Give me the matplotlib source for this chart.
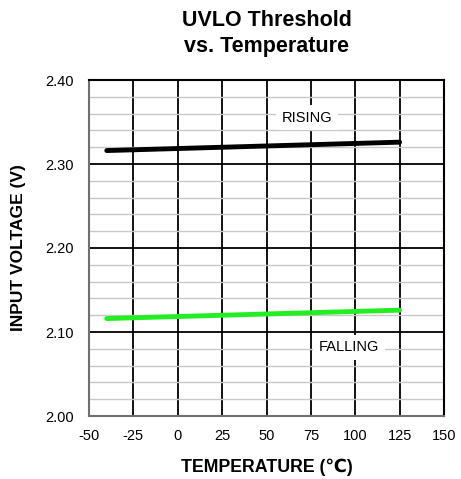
import numpy as np
import matplotlib.pyplot as plt
from matplotlib.ticker import MultipleLocator

plt.rcParams['font.family'] = ['Liberation Sans', 'DejaVu Sans']
plt.rcParams['axes.unicode_minus'] = False

# data
temp = [-40, 125]
rising = [2.316, 2.326]
falling = [2.116, 2.126]
x_ticks = [-50, -25, 0, 25, 50, 75, 100, 125, 150]
y_ticks = [2.00, 2.10, 2.20, 2.30, 2.40]

fig = plt.figure(figsize=(4.61, 4.79), dpi=100)
ax = fig.add_axes([89/461, 1-416/479, 355/461, 336/479])

ax.set_xlim(-50, 150)
ax.set_ylim(2.00, 2.40)
ax.set_xticks(x_ticks)
ax.set_yticks(y_ticks)
ax.set_yticklabels([f"{v:.2f}" for v in y_ticks])
ax.yaxis.set_minor_locator(MultipleLocator(0.02))

ax.grid(True, which='major', color='black', linewidth=1.3)
ax.grid(True, which='minor', axis='y', color='#c8c8c8', linewidth=1.0)
ax.set_axisbelow(True)
ax.tick_params(which='both', length=0, labelsize=10.5)
ax.tick_params(axis='y', pad=11)
ax.tick_params(axis='x', pad=9.5)

for s in ['top', 'right']:
    ax.spines[s].set_color('black')
    ax.spines[s].set_linewidth(1.5)
for s in ['left', 'bottom']:
    ax.spines[s].set_color('#707070')
    ax.spines[s].set_linewidth(1.5)

ax.plot(temp, rising, color='black', linewidth=3.5, solid_capstyle='round')
ax.plot(temp, falling, color='#22ee22', linewidth=3.5, solid_capstyle='round')

box = dict(facecolor='white', edgecolor='none', pad=4)
ax.text(73, 2.355, 'RISING', ha='center', va='center', fontsize=10.5, bbox=box)
ax.text(96.5, 2.082, 'FALLING', ha='center', va='center', fontsize=10.5, bbox=box)

ax.set_xlabel('TEMPERATURE (℃)', fontsize=12.8, fontweight='bold', labelpad=11)
ax.set_ylabel('INPUT VOLTAGE (V)', fontsize=12.5, fontweight='bold', labelpad=14)
ax.set_title('UVLO Threshold\nvs. Temperature', fontsize=15.5, fontweight='bold',
             pad=20, linespacing=1.3)

fig.savefig('out.png', dpi=100)
